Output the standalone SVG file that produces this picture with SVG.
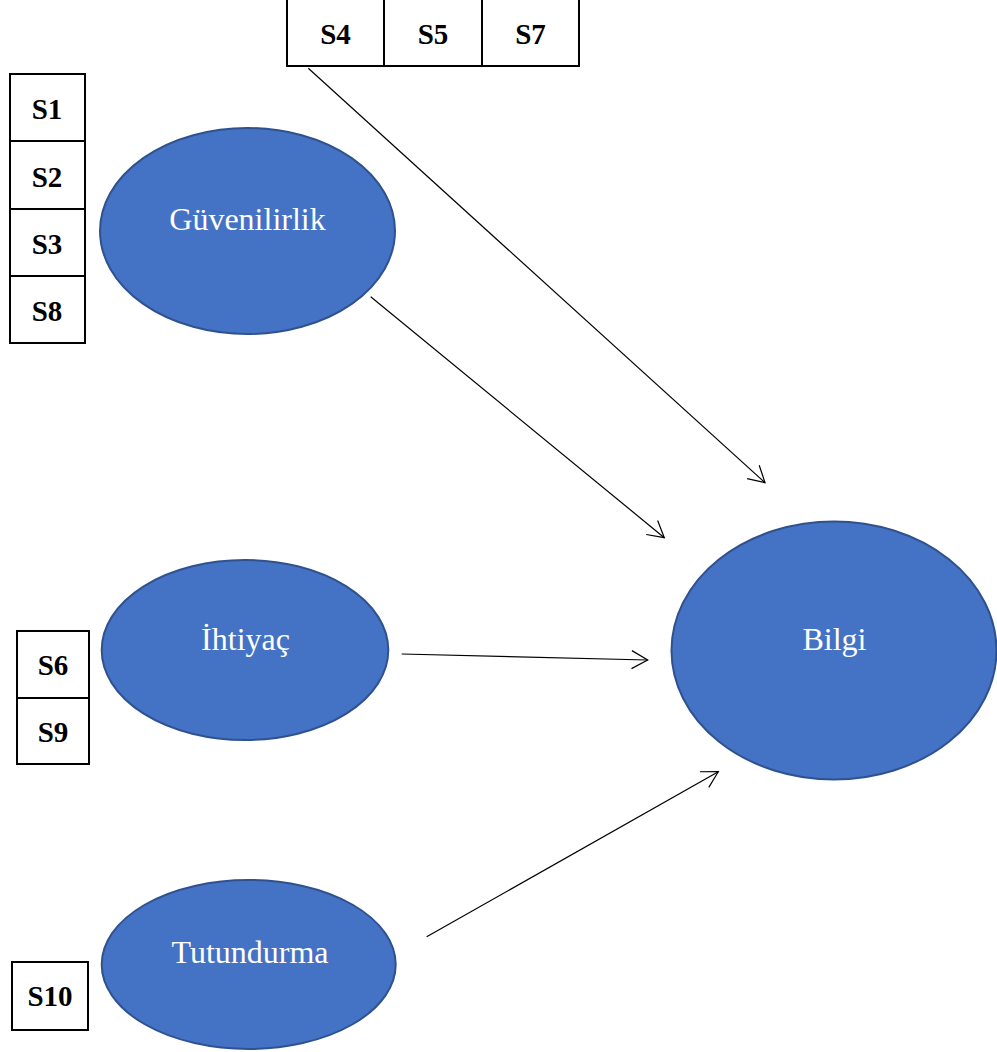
<svg xmlns="http://www.w3.org/2000/svg" width="997" height="1052" viewBox="0 0 997 1052">
<style>
.box{fill:#fff;stroke:#000;stroke-width:2}
.div{stroke:#000;stroke-width:2}
.lbl{font-family:"Liberation Serif","Times New Roman",serif;font-weight:bold;font-size:29px;fill:#000;text-anchor:middle}
.ell{fill:#4472C4;stroke:#2F528F;stroke-width:2}
.etxt{font-family:"Liberation Serif","Times New Roman",serif;font-size:32px;fill:#fff;text-anchor:middle}
.conn{stroke:#000;stroke-width:1.2;fill:none;marker-end:url(#arr)}
</style>
<defs>
<marker id="arr" markerUnits="userSpaceOnUse" viewBox="-19 -11 22 22" markerWidth="22" markerHeight="22" refX="0" refY="0" orient="auto">
<path d="M-16,-9 L0,0 L-16,9" fill="none" stroke="#000" stroke-width="1.2"/>
</marker>
</defs>
<rect width="997" height="1052" fill="#fff"/>
<g id="top-items">
<rect class="box" x="287" y="-3" width="292" height="69"/>
<line class="div" x1="384" y1="-3" x2="384" y2="66"/>
<line class="div" x1="482" y1="-3" x2="482" y2="66"/>
<text class="lbl" x="335.5" y="44">S4</text>
<text class="lbl" x="433" y="44">S5</text>
<text class="lbl" x="530.5" y="44">S7</text>
</g>
<g id="left-items">
<rect class="box" x="10" y="74" width="75" height="269"/>
<line class="div" x1="10" y1="141" x2="85" y2="141"/>
<line class="div" x1="10" y1="209" x2="85" y2="209"/>
<line class="div" x1="10" y1="276" x2="85" y2="276"/>
<text class="lbl" x="47" y="119">S1</text>
<text class="lbl" x="47" y="187">S2</text>
<text class="lbl" x="47" y="254">S3</text>
<text class="lbl" x="47" y="321">S8</text>
</g>
<g id="guvenilirlik">
<ellipse class="ell" cx="247.5" cy="231" rx="147.5" ry="103"/>
<text class="etxt" x="247.5" y="230">Güvenilirlik</text>
</g>
<g id="ihtiyac-items">
<rect class="box" x="17" y="631" width="72" height="133"/>
<line class="div" x1="17" y1="698" x2="89" y2="698"/>
<text class="lbl" x="53" y="675">S6</text>
<text class="lbl" x="53" y="742">S9</text>
</g>
<g id="ihtiyac">
<ellipse class="ell" cx="245" cy="650" rx="143.3" ry="90"/>
<text class="etxt" x="245.5" y="650">İhtiyaç</text>
</g>
<g id="tutundurma-items">
<rect class="box" x="12" y="962" width="76" height="68"/>
<text class="lbl" x="50" y="1006">S10</text>
</g>
<g id="tutundurma">
<ellipse class="ell" cx="248.7" cy="964.5" rx="147" ry="84.5"/>
<text class="etxt" x="250" y="963">Tutundurma</text>
</g>
<g id="bilgi">
<ellipse class="ell" cx="834" cy="650.5" rx="162.5" ry="129"/>
<text class="etxt" x="834.5" y="650">Bilgi</text>
</g>
<g id="connectors">
<line class="conn" x1="308.3" y1="68.3" x2="765" y2="482.7"/>
<line class="conn" x1="370.7" y1="296.7" x2="664.3" y2="537.7"/>
<line class="conn" x1="401.7" y1="654" x2="647.7" y2="660"/>
<line class="conn" x1="426.7" y1="936.7" x2="718.3" y2="771.7"/>
</g>
</svg>
